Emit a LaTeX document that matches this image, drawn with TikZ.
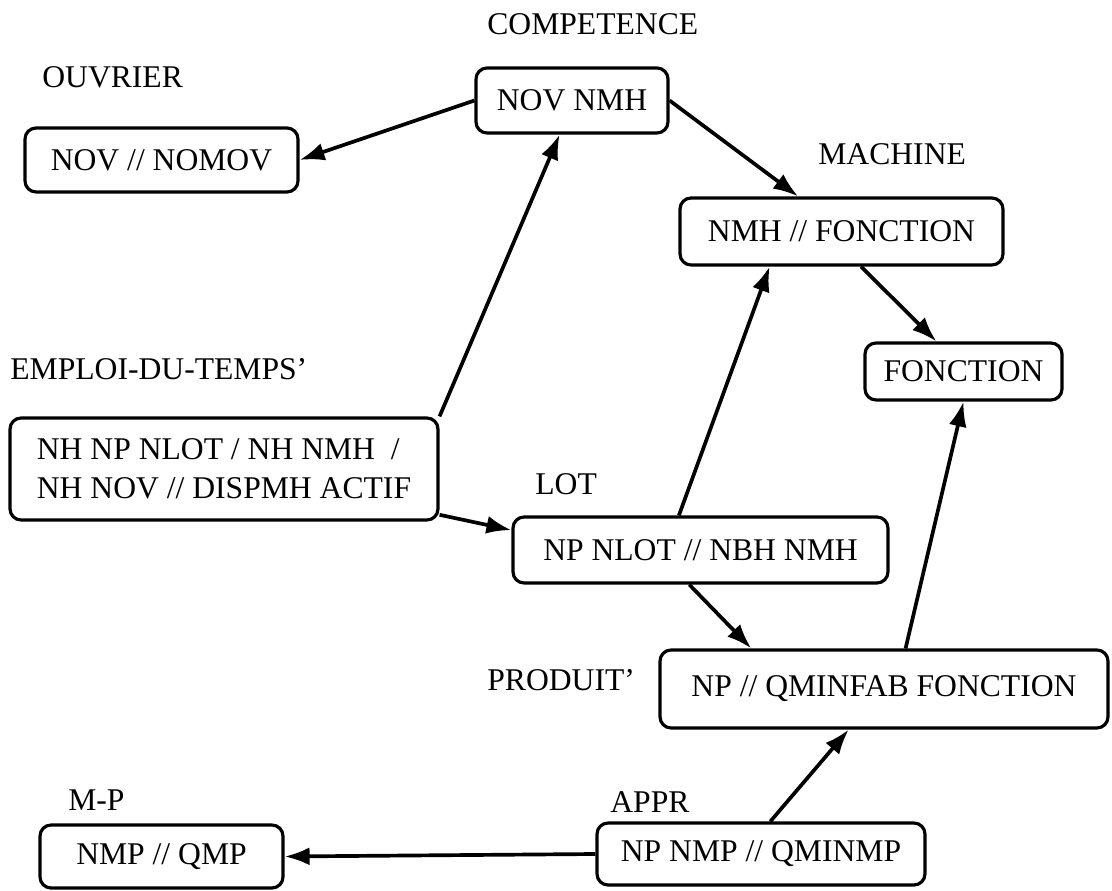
\documentclass[tikz,border=0pt]{standalone}
\usepackage{fontspec}
\setmainfont{Liberation Serif}
\usetikzlibrary{arrows.meta}

\tikzset{
	relbox/.style = {draw, line width=1.8pt, rounded corners=0.22cm, inner sep=0pt,
		font=\fontsize{18}{22}\selectfont},
	relname/.style = {anchor=base west, inner sep=0pt, font=\fontsize{18}{22}\selectfont},
	link/.style = {line width=2.1pt, -{Latex[length=0.5cm,width=0.36cm]}}
}

\begin{document}
\begin{tikzpicture}[x=0.02cm, y=-0.02cm]
	\useasboundingbox (0,0) rectangle (1112,891);

	% relations
	\node[relbox, minimum width=5.46cm, minimum height=1.28cm] (ouvrier) at (161.5,160) {NOV // NOMOV};
	\node[relbox, minimum width=3.84cm, minimum height=1.30cm] (competence) at (572,100.5) {NOV NMH};
	\node[relbox, minimum width=6.46cm, minimum height=1.34cm] (machine) at (841.5,231.5) {NMH // FONCTION};
	\node[relbox, minimum width=3.94cm, minimum height=1.14cm] (fonction) at (963.5,371.5) {FONCTION};
	\node[relbox, minimum width=8.56cm, minimum height=2.04cm, align=left] (emploi) at (224,469)
		{NH NP NLOT / NH NMH~~/\\NH NOV // DISPMH ACTIF};
	\node[relbox, minimum width=7.50cm, minimum height=1.32cm] (lot) at (700.5,550) {NP NLOT // NBH NMH};
	\node[relbox, minimum width=8.96cm, minimum height=1.56cm] (produit) at (884,689) {NP // QMINFAB FONCTION};
	\node[relbox, minimum width=6.56cm, minimum height=1.24cm] (appr) at (761,854) {NP NMP // QMINMP};
	\node[relbox, minimum width=4.86cm, minimum height=1.26cm] (mp) at (161.5,856.5) {NMP // QMP};

	% relation names
	\node[relname] (nameouvrier) at (42,88) {OUVRIER};
	\node[relname] (namecompetence) at (487,35) {COMPETENCE};
	\node[relname] (namemachine) at (818,165) {MACHINE};
	\node[relname] (nameemploi) at (10,380) {EMPLOI-DU-TEMPS'};
	\node[relname] (namelot) at (535,495) {LOT};
	\node[relname] (nameproduit) at (487,690) {PRODUIT'};
	\node[relname] (nameappr) at (610,812) {APPR};
	\node[relname] (namemp) at (68,810) {M-P};

	% links
	\draw[link] (competence.west) -- (ouvrier.east);
	\draw[link] (emploi.north east) -- (competence.-110);
	\draw[link] (competence.east) -- (machine.141);
	\draw[link] (machine.-61) -- (fonction.132);
	\draw[link] (lot.122) -- (machine.-154);
	\draw[link] (emploi.-12) -- (lot.174);
	\draw[link] (lot.-108) -- (produit.163);
	\draw[link] (produit.62) -- (fonction.south);
	\draw[link] (appr.74) -- (produit.-131);
	\draw[link] (appr.west) -- (mp.east);
\end{tikzpicture}
\end{document}
